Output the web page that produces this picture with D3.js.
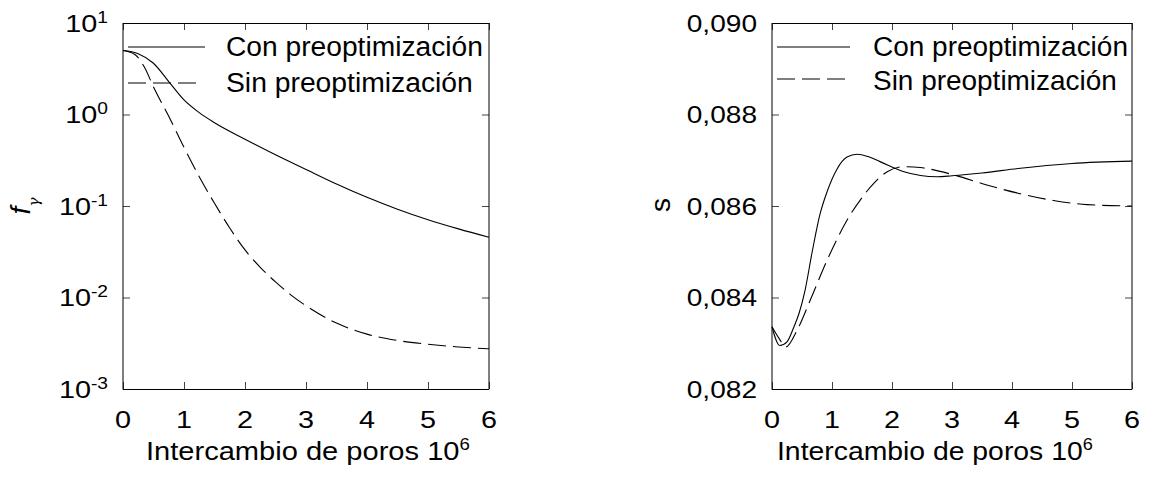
<!DOCTYPE html>
<html><head><meta charset="utf-8">
<script src="https://cdn.jsdelivr.net/npm/d3@7"></script>
<style>
body{margin:0;background:#fff}
svg{display:block}
text{font-family:"Liberation Sans",Arial,sans-serif;fill:#000}
</style>
</head><body>
<svg id="chart" width="1153" height="485"></svg>
<script>
// ---------- data ----------
const xTicks = [0,1,2,3,4,5,6];
const seriesNames = ["Con preoptimización","Sin preoptimización"];
const logExps = [1,0,-1,-2,-3];
const sTicks = [0.082,0.084,0.086,0.088,0.090];
const sTickLabels = ["0,082","0,084","0,086","0,088","0,090"];
const xTitle = "Intercambio de poros 10";
const xTitleSup = "6";

// left panel: f_gamma
const tCon = [0,0.25,0.5,0.75,1,1.25,1.5,2,2.5,3,3.5,4,4.5,5,5.5,6];
const fCon = [5.0,4.62,3.63,2.29,1.445,1.047,0.813,0.537,0.363,0.251,0.174,0.1245,0.0923,0.0708,0.0562,0.0455];
const tSin = [0,0.2,0.35,0.5,0.75,1,1.25,1.5,1.75,2,2.25,2.5,2.75,3,3.5,4,4.5,5,5.5,6];
const fSin = [5,4.5,3.3,2.0,0.955,0.437,0.209,0.107,0.0575,0.0331,0.0214,0.0148,0.0107,0.00813,0.00525,0.00398,0.00339,0.00309,0.00288,0.00275];

// right panel: s
const sTCon = [0,0.13,0.25,0.36,0.45,0.55,0.67,0.8,0.92,1.08,1.25,1.42,1.6,1.8,2.2,2.75,3.0,3.5,4.1,5.0,6];
const sCon  = [0.08336,0.08295,0.08303,0.08334,0.08365,0.08415,0.08500,0.08582,0.08632,0.08680,0.08707,0.08713,0.08708,0.08697,0.08675,0.08664,0.08666,0.08672,0.08682,0.08693,0.08698];
const sTSin = [0,0.12,0.23,0.42,0.64,0.92,1.25,1.47,1.7,1.92,2.19,2.47,3.03,3.58,4.1,4.69,5.25,6];
const sSin  = [0.08336,0.0831,0.08292,0.08329,0.08395,0.08482,0.08569,0.08613,0.08650,0.08675,0.08686,0.08684,0.08668,0.08646,0.08628,0.08612,0.08603,0.08600];

// ---------- drawing ----------
const svg = d3.select("#chart");
const DASH = "18,7";
const TICK = 7;

function fitWidth(sel, target){
  const w = sel.node().getBBox().width;
  return w ? target / w : 1;
}

function panel(opt){
  const g = svg.append("g");
  const x = opt.x, y = opt.y;
  const [x0,x1] = x.range(); const [y0,y1] = y.range();

  g.append("g").attr("transform",`translate(0,${y0})`)
    .call(d3.axisBottom(x).tickValues(xTicks).tickSize(-TICK).tickSizeOuter(0).tickFormat(""))
    .call(a=>a.select(".domain").remove());
  g.append("g").attr("transform",`translate(0,${y1})`)
    .call(d3.axisTop(x).tickValues(xTicks).tickSize(-TICK).tickSizeOuter(0).tickFormat(""))
    .call(a=>a.select(".domain").remove());
  g.append("g").attr("transform",`translate(${x0},0)`)
    .call(d3.axisLeft(y).tickValues(opt.yTicks).tickSize(-TICK).tickSizeOuter(0).tickFormat(""))
    .call(a=>a.select(".domain").remove());
  g.append("g").attr("transform",`translate(${x1},0)`)
    .call(d3.axisRight(y).tickValues(opt.yTicks).tickSize(-TICK).tickSizeOuter(0).tickFormat(""))
    .call(a=>a.select(".domain").remove());
  g.selectAll(".tick line").attr("stroke","#444");

  g.append("line").attr("x1",x0).attr("x2",x0).attr("y1",y1).attr("y2",y0+0.5).attr("stroke","#000");
  g.append("line").attr("x1",x1).attr("x2",x1).attr("y1",y1).attr("y2",y0+0.5).attr("stroke","#000");
  g.append("line").attr("x1",x0).attr("x2",x1).attr("y1",y0+0.5).attr("y2",y0+0.5).attr("stroke","#000");
  g.append("line").attr("x1",x0).attr("x2",x1).attr("y1",y1+0.5).attr("y2",y1+0.5).attr("stroke","#000");

  g.selectAll(".xl").data(xTicks).join("text")
    .attr("transform",d=>`translate(${x(d)},428) scale(1.2,1)`)
    .attr("text-anchor","middle").attr("font-size",24).text(d=>d);

  const line = d3.line().x(d=>x(d[0])).y(d=>y(d[1])).curve(d3.curveMonotoneX);
  g.append("path").datum(d3.zip(opt.t1,opt.v1)).attr("d",line)
    .attr("fill","none").attr("stroke","#000").attr("stroke-width",1.1);
  g.append("path").datum(d3.zip(opt.t2,opt.v2)).attr("d",line)
    .attr("fill","none").attr("stroke","#000").attr("stroke-width",1.1).attr("stroke-dasharray",DASH);

  const L = opt.legend;
  g.append("line").attr("x1",L.lx0).attr("x2",L.lx1).attr("y1",L.y1).attr("y2",L.y1).attr("stroke","#000").attr("stroke-width",1.1);
  g.append("line").attr("x1",L.lx0).attr("x2",L.lx2).attr("y1",L.y2).attr("y2",L.y2).attr("stroke","#000").attr("stroke-width",1.1).attr("stroke-dasharray",DASH);
  seriesNames.forEach((nm,i)=>{
    const gt = g.append("g");
    const t = gt.append("text").attr("font-size",27).text(nm);
    gt.attr("transform",`translate(${L.tx},${i?L.b2:L.b1}) scale(${fitWidth(t,L.w[i])},1)`);
  });

  const gt = g.append("g");
  const tt = gt.append("text").attr("font-size",25);
  tt.append("tspan").text(xTitle);
  tt.append("tspan").attr("font-size",16).attr("dy",-10).text(xTitleSup);
  gt.attr("transform",`translate(${opt.titleX},460) scale(${fitWidth(tt,opt.titleW)},1)`);
  return g;
}

// left panel
const xL = d3.scaleLinear().domain([0,6]).range([123,489]);
const yL = d3.scaleLog().domain([1e-3,1e1]).range([389,23]);
const gL = panel({x:xL,y:yL,yTicks:logExps.map(e=>Math.pow(10,e)),
  t1:tCon,v1:fCon,t2:tSin,v2:fSin,titleX:146,titleW:324,
  legend:{lx0:128,lx1:205,lx2:200,y1:47,y2:83,tx:226,b1:56,b2:92,w:[257,247]}});
logExps.forEach(e=>{
  const g = gL.append("g");
  const t = g.append("text").attr("text-anchor","end").attr("font-size",24);
  t.append("tspan").text("10");
  t.append("tspan").attr("font-size",16).attr("dy",-9).text(String(e));
  g.attr("transform",`translate(108,${yL(Math.pow(10,e))+8.5}) scale(1.2,1)`);
});
{
  const g = gL.append("g").attr("transform","translate(30,206) rotate(-90)");
  const t = g.append("text").attr("text-anchor","middle").attr("font-size",28);
  t.append("tspan").attr("font-style","italic").text("f");
  t.append("tspan").attr("font-size",15).attr("dy",9).attr("font-family","DejaVu Serif").attr("font-style","italic").text("γ");
}

// right panel
const xR = d3.scaleLinear().domain([0,6]).range([772,1132]);
const yR = d3.scaleLinear().domain([0.082,0.090]).range([389,23]);
const gR = panel({x:xR,y:yR,yTicks:sTicks,
  t1:sTCon,v1:sCon,t2:sTSin,v2:sSin,titleX:777,titleW:316,
  legend:{lx0:777,lx1:850,lx2:847,y1:47,y2:79,tx:873,b1:56,b2:90,w:[255,244]}});
sTicks.forEach((v,i)=>{
  gR.append("text").attr("text-anchor","end").attr("font-size",24)
    .attr("transform",`translate(757,${yR(v)+8.5}) scale(1.17,1)`).text(sTickLabels[i]);
});
gR.append("text").attr("text-anchor","middle").attr("font-size",28)
  .attr("transform","translate(670,205) rotate(-90)").text("s");
</script>
</body></html>
